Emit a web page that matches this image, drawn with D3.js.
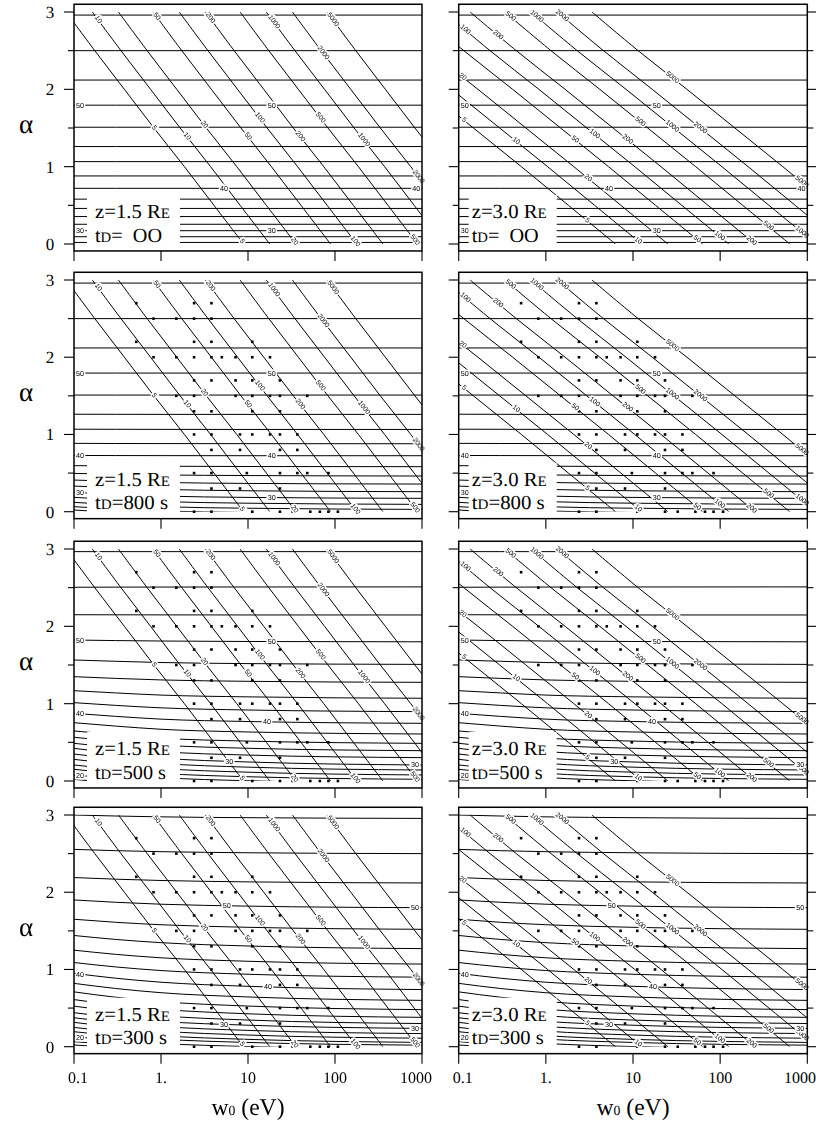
<!DOCTYPE html>
<html>
<head>
<meta charset="utf-8">
<script src="https://cdn.jsdelivr.net/npm/d3@7"></script>
<style>
  html, body { margin: 0; padding: 0; background: #fff; }
  svg { display: block; }
  text { text-rendering: geometricPrecision; }
</style>
</head>
<body>
<svg id="chart" width="816" height="1121"></svg>
<script>
// ---------- axis values ----------
const wTicks = [0.1, 1, 10, 100, 1000];
const wTickLabels = ["0.1", "1.", "10", "100", "1000"];
const alphaMajor = [0, 1, 2, 3];
const alphaMinor = [0.5, 1.5, 2.5];

// ---------- final-energy contours (eV) ----------
const energyLevels = [5, 10, 20, 50, 100, 200, 500, 1000, 2000, 5000];
// log10(W / w0) as a function of alpha, one profile per altitude
const gainAlpha = [0, 0.5, 1, 1.5, 2, 2.5, 3];
const gainZ15 = [-0.25, 0.09, 0.43, 0.78, 1.12, 1.46, 1.79];
const gainZ30 = [-0.10, 0.44, 0.98, 1.53, 2.08, 2.64, 3.17];

// energy contour labels: [level, alpha]
const energyLabelsZ15 = [[10, 2.9], [50, 2.94], [200, 2.92], [1000, 2.87], [5000, 2.9], [2000, 2.47],
  [5, 1.5], [10, 1.39], [20, 1.54], [50, 1.39], [100, 1.63], [200, 1.39], [500, 1.63], [1000, 1.345],
  [2000, 0.87], [5, 0.03], [20, 0.03], [100, 0.03], [500, 0.05]];
const energyLabelsZ30 = [[100, 2.77], [200, 2.70], [500, 2.94], [1000, 2.94], [2000, 2.95], [5000, 2.15],
  [20, 2.16], [5, 1.6], [10, 1.33], [50, 1.35], [100, 1.42], [200, 1.35], [500, 1.58], [1000, 1.52],
  [2000, 1.5], [5000, 0.8], [20, 0.85], [5, 0.3], [10, 0.04], [50, 0.06], [100, 0.1], [200, 0.04],
  [500, 0.23], [1000, 0.15]];

// ---------- pitch-angle contours (deg) ----------
const pitchLevels = [56, 54, 52, 50, 48, 46, 44, 42, 40, 38, 36, 34, 32, 30, 28, 26, 24, 22, 20, 18, 16];
const sampleW = [0.1, 0.3, 1, 10, 1000];
// tD = infinity: alpha of each level, independent of w0
const pitchInf = [2.96, 2.50, 2.12, 1.795, 1.51, 1.26, 1.065, 0.88, 0.72, 0.58, 0.46, 0.355, 0.255, 0.172, 0.094, 0.02];
// finite tD: alpha of each level at the sampleW energies
const pitch800 = [
  [2.96, 2.96, 2.96, 2.96, 2.96],
  [2.50, 2.50, 2.50, 2.50, 2.50],
  [2.12, 2.12, 2.12, 2.12, 2.12],
  [1.795, 1.795, 1.795, 1.795, 1.795],
  [1.51, 1.51, 1.51, 1.51, 1.51],
  [1.262, 1.261, 1.26, 1.26, 1.26],
  [1.068, 1.067, 1.066, 1.065, 1.065],
  [0.885, 0.883, 0.882, 0.881, 0.88],
  [0.728, 0.727, 0.726, 0.725, 0.725],
  [0.596, 0.592, 0.589, 0.585, 0.583],
  [0.496, 0.485, 0.476, 0.468, 0.462],
  [0.41, 0.393, 0.379, 0.366, 0.358],
  [0.332, 0.308, 0.289, 0.271, 0.259],
  [0.25, 0.224, 0.203, 0.185, 0.173],
  [0.186, 0.155, 0.131, 0.11, 0.095],
  [0.121, 0.09, 0.065, 0.045, 0.03],
  [0.065, 0.035, 0.01, -0.01, -0.03],
  [0.022, -0.01, -0.03, -0.05, -0.07]
];
const pitch500 = [
  [2.966, 2.966, 2.966, 2.966, 2.966],
  [2.505, 2.507, 2.508, 2.509, 2.51],
  [2.15, 2.149, 2.148, 2.147, 2.147],
  [1.823, 1.816, 1.81, 1.804, 1.80],
  [1.565, 1.548, 1.532, 1.518, 1.508],
  [1.349, 1.327, 1.307, 1.289, 1.276],
  [1.168, 1.139, 1.111, 1.088, 1.07],
  [1.013, 0.978, 0.946, 0.918, 0.897],
  [0.875, 0.836, 0.80, 0.769, 0.746],
  [0.754, 0.71, 0.669, 0.634, 0.608],
  [0.647, 0.599, 0.554, 0.516, 0.487],
  [0.565, 0.513, 0.465, 0.423, 0.392],
  [0.487, 0.432, 0.38, 0.335, 0.302],
  [0.422, 0.358, 0.297, 0.246, 0.207],
  [0.349, 0.287, 0.229, 0.179, 0.142],
  [0.28, 0.219, 0.163, 0.114, 0.078],
  [0.207, 0.152, 0.10, 0.055, 0.022],
  [0.151, 0.097, 0.046, 0.003, -0.03],
  [0.078, 0.03, -0.015, -0.05, -0.08],
  [0.02, -0.02, -0.05, -0.08, -0.11]
];
const pitch300 = [
  [3.0, 2.987, 2.976, 2.965, 2.956],
  [2.555, 2.538, 2.525, 2.511, 2.50],
  [2.19, 2.169, 2.152, 2.134, 2.12],
  [1.90, 1.87, 1.845, 1.82, 1.80],
  [1.65, 1.611, 1.579, 1.546, 1.52],
  [1.44, 1.389, 1.347, 1.304, 1.27],
  [1.25, 1.196, 1.151, 1.106, 1.07],
  [1.09, 1.033, 0.986, 0.938, 0.90],
  [0.95, 0.887, 0.835, 0.782, 0.74],
  [0.82, 0.754, 0.699, 0.644, 0.60],
  [0.71, 0.641, 0.584, 0.526, 0.48],
  [0.61, 0.541, 0.484, 0.426, 0.38],
  [0.525, 0.458, 0.401, 0.345, 0.30],
  [0.44, 0.379, 0.328, 0.278, 0.237],
  [0.375, 0.314, 0.262, 0.211, 0.17],
  [0.315, 0.254, 0.202, 0.151, 0.11],
  [0.25, 0.192, 0.143, 0.095, 0.056],
  [0.194, 0.142, 0.098, 0.055, 0.02],
  [0.13, 0.082, 0.042, 0.002, -0.03],
  [0.065, 0.025, -0.01, -0.04, -0.08],
  [0.022, -0.01, -0.04, -0.07, -0.10]
];
// pitch contour labels: [level, w0]
const pitchLabelsInf = [[50, 0.117], [50, 18.7], [40, 5.3], [40, 860], [30, 0.117], [30, 18.7]];
const pitchLabels800 = [[50, 0.117], [50, 18.7], [40, 0.117], [40, 18.7], [30, 0.117], [30, 18.7]];
const pitchLabels500 = [[50, 0.117], [50, 18.7], [40, 0.117], [40, 16.5], [30, 6.1], [30, 830], [20, 0.117]];
const pitchLabels300 = [[50, 5.7], [50, 830], [40, 0.117], [40, 17], [30, 5.3], [30, 830], [20, 0.117]];

// ---------- observed events (same set in every panel) ----------
const obsAlpha = [2.7, 2.5, 2.2, 2.0, 1.7, 1.5, 1.3, 1.0, 0.8, 0.5, 0.3, 0.0];
const obsW = [
  [0.52, 2.4, 3.8],
  [0.82, 1.5, 2.4, 3.8],
  [0.52, 2.4, 3.8, 11.2],
  [0.82, 1.5, 2.4, 3.8, 5.0, 7.2, 11.2, 17.9],
  [2.4, 3.8, 7.2, 11.2, 23.3],
  [0.82, 1.5, 2.4, 7.2, 11.2, 17.9, 23.3, 48],
  [2.4, 3.8, 11.2, 23.3],
  [2.4, 3.8, 8.1, 11.2, 17.9, 23.3, 36.9],
  [3.8, 8.1, 23.3, 36.9],
  [2.4, 3.8, 9.7, 23.3, 36.9, 48, 84],
  [3.8, 8.1, 23.3],
  [2.4, 3.8, 11.2, 23.3, 32.6, 52, 67, 84, 108]
];

// ---------- panel grid ----------
const columns = [
  { z: "1.5", gain: gainZ15, labels: energyLabelsZ15, x: [74, 422], boxPad: 13, textPad: 21 },
  { z: "3.0", gain: gainZ30, labels: energyLabelsZ30, x: [458.7, 807.3], boxPad: 10, textPad: 13 }
];
const rows = [
  { td: "=\u2002OO", tdWidth: 67, pitch: pitchInf.map(a => sampleW.map(() => a)), labels: pitchLabelsInf, obs: false, y: [244, 12] },
  { td: "=800 s", tdWidth: 73, pitch: pitch800, labels: pitchLabels800, obs: true, y: [511.7, 280] },
  { td: "=500 s", tdWidth: 71, pitch: pitch500, labels: pitchLabels500, obs: true, y: [781, 549] },
  { td: "=300 s", tdWidth: 72, pitch: pitch300, labels: pitchLabels300, obs: true, y: [1046.7, 815] }
];

const serif = "'Liberation Serif', 'Times New Roman', Times, serif";
const sans = "'Liberation Sans', Arial, Helvetica, sans-serif";
const svg = d3.select("#chart");

columns.forEach((col, ci) => rows.forEach((row, ri) => drawPanel(col, row, ci, ri)));

function drawPanel(col, row, ci, ri) {
  const [x0, x1] = col.x;
  const x = d3.scaleLog().domain([0.1, 1000]).range([x0, x1]);
  const y = d3.scaleLinear().domain([0, 3]).range(row.y);
  const pxPerDecade = (x1 - x0) / 4;
  const pxPerAlpha = y(0) - y(1);
  const frameTop = y(3.1), frameBottom = y(-0.09);

  const g = svg.append("g");
  const clipId = `clip-${ci}-${ri}`;
  g.append("clipPath").attr("id", clipId).append("rect")
    .attr("x", x0).attr("y", y(3.005))
    .attr("width", x1 - x0).attr("height", y(0) - y(3.005));
  const plot = g.append("g").attr("clip-path", `url(#${clipId})`)
    .attr("fill", "none").attr("stroke", "#000").attr("stroke-width", 1);

  // pitch-angle contours
  const pitchLine = d3.line().x(d => x(d[0])).y(d => y(d[1])).curve(d3.curveMonotoneX);
  row.pitch.forEach(alphas => {
    plot.append("path").attr("d", pitchLine(sampleW.map((w, k) => [w, alphas[k]])));
  });

  // final-energy contours
  const energyLine = d3.line().x(d => x(d[0])).y(d => y(d[1])).curve(d3.curveCatmullRom);
  energyLevels.forEach(E => {
    const pts = gainAlpha.map((a, k) => [E / Math.pow(10, col.gain[k]), a]);
    plot.append("path").attr("d", energyLine(pts));
  });

  // observed events
  if (row.obs) {
    const pts = [];
    obsAlpha.forEach((a, i) => obsW[i].forEach(w => pts.push([w, a])));
    g.append("g").selectAll("rect").data(pts).join("rect")
      .attr("x", d => x(d[0]) - 1.3).attr("y", d => y(d[1]) - 1.3)
      .attr("width", 2.6).attr("height", 2.6).attr("fill", "#000");
  }

  // contour labels (grouped with opacity so they render in grayscale)
  const labels = g.append("g").attr("opacity", 0.999);
  const gain = d3.scaleLinear().domain(gainAlpha).range(col.gain);
  const labelStyle = sel => sel
    .attr("font-family", sans).attr("fill", "#000")
    .attr("stroke", "#fff").attr("stroke-width", 3.2).attr("paint-order", "stroke")
    .attr("text-anchor", "middle").attr("dominant-baseline", "central");

  col.labels.forEach(([E, a]) => {
    const w = E / Math.pow(10, gain(a));
    const lo = Math.max(0, a - 0.1), hi = Math.min(3, a + 0.1);
    const slope = (gain(hi) - gain(lo)) / (hi - lo);
    const ang = Math.atan2(pxPerAlpha, slope * pxPerDecade) * 180 / Math.PI;
    labels.append("text").call(labelStyle)
      .attr("font-size", 6.8)
      .attr("transform", `translate(${x(w)},${y(a)}) rotate(${ang})`)
      .text(E);
  });

  row.labels.forEach(([level, w]) => {
    const alphas = row.pitch[pitchLevels.indexOf(level)];
    const interp = d3.scaleLinear().domain(sampleW.map(Math.log10)).range(alphas);
    labels.append("text").call(labelStyle)
      .attr("font-size", 7.2)
      .attr("x", x(w)).attr("y", y(interp(Math.log10(w))))
      .text(level);
  });

  // parameter box
  const boxX = x0 + col.boxPad;
  const boxTop = y(0) - 49;
  const tx = x0 + col.textPad;
  const box = g.append("rect").attr("fill", "#fff");
  const tg = g.append("g").attr("opacity", 0.999);
  const t1 = tg.append("text").attr("font-family", serif).attr("font-size", 20)
    .attr("x", tx).attr("y", y(0) - 26)
    .attr("textLength", 75).attr("lengthAdjust", "spacingAndGlyphs");
  t1.append("tspan").text(`z=${col.z} R`);
  t1.append("tspan").attr("font-size", 14.5).text("E");
  const t2 = tg.append("text").attr("font-family", serif).attr("font-size", 20)
    .attr("x", tx).attr("y", y(0) - 2.5)
    .attr("textLength", row.tdWidth).attr("lengthAdjust", "spacingAndGlyphs");
  t2.append("tspan").text("t");
  t2.append("tspan").attr("font-size", 14.5).text("D");
  t2.append("tspan").text(row.td);
  const boxRight = tx + 75 + 10;
  box.attr("x", boxX).attr("y", boxTop)
    .attr("width", boxRight - boxX).attr("height", frameBottom - boxTop - 0.8);

  // axes
  const ax = g.append("g").attr("stroke", "#000").attr("stroke-width", 1.1);
  wTicks.forEach(w => ax.append("line")
    .attr("x1", x(w)).attr("x2", x(w)).attr("y1", frameBottom).attr("y2", frameBottom + 10));
  const sides = ci === 1 ? [[x0, -1], [x1, 1]] : [[x0, -1]];
  sides.forEach(([sx, dir]) => {
    alphaMajor.forEach(a => ax.append("line")
      .attr("x1", sx).attr("x2", sx + dir * 10).attr("y1", y(a)).attr("y2", y(a)));
    alphaMinor.forEach(a => ax.append("line")
      .attr("x1", sx).attr("x2", sx + dir * 6).attr("y1", y(a)).attr("y2", y(a)));
  });

  g.append("rect").attr("x", x0).attr("y", frameTop)
    .attr("width", x1 - x0).attr("height", frameBottom - frameTop)
    .attr("fill", "none").attr("stroke", "#000").attr("stroke-width", 1.5);

  const axText = g.append("g").attr("opacity", 0.999).attr("font-family", serif);
  if (ci === 0) {
    alphaMajor.forEach(a => axText.append("text").attr("font-size", 17)
      .attr("text-anchor", "middle").attr("x", 50).attr("y", y(a) + 6).text(a));
    axText.append("text").attr("font-size", 27)
      .attr("text-anchor", "middle").attr("x", 26).attr("y", (row.y[0] + row.y[1]) / 2 + 5)
      .text("\u03b1");
  }

  if (ri === rows.length - 1) {
    wTicks.forEach((w, i) => {
      const last = i === wTicks.length - 1;
      const t = axText.append("text").attr("font-size", 16).attr("y", frameBottom + 29)
        .text(wTickLabels[i]);
      if (last && ci === 1) {
        t.attr("text-anchor", "end").attr("x", 816);
      } else {
        t.attr("text-anchor", "middle").attr("x", x(w) + (i === 0 ? 4 : last ? -6 : 0));
      }
    });
    const xl = axText.append("text").attr("font-size", 24)
      .attr("x", x(10) - 36.5).attr("y", frameBottom + 61)
      .attr("textLength", 73).attr("lengthAdjust", "spacingAndGlyphs");
    xl.append("tspan").text("w");
    xl.append("tspan").attr("font-size", 14).text("0");
    xl.append("tspan").text(" (eV)");
  }
}
</script>
</body>
</html>
